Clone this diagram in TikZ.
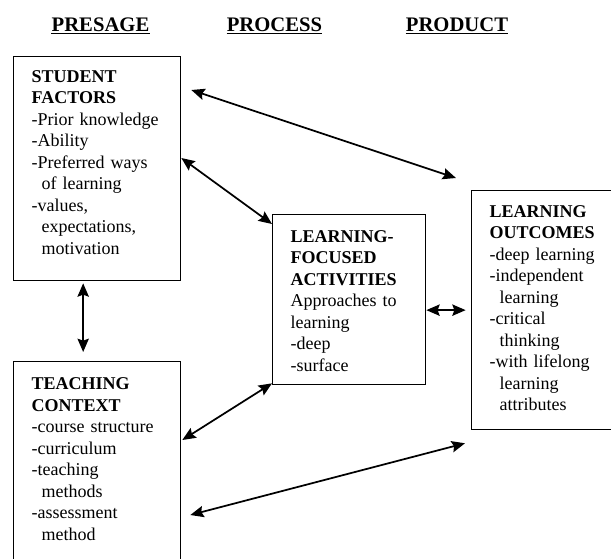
\documentclass[tikz,border=0pt]{standalone}
\usepackage{fontspec}
\setmainfont{Liberation Serif}
\usetikzlibrary{arrows.meta,positioning}
\newcommand{\ind}{\hspace*{0.55em}}

\begin{document}
\begin{tikzpicture}[x=0.75pt,y=-0.75pt,>={Stealth[length=10pt,width=8.5pt,inset=1.5pt]}]
  \tikzstyle{every node}=[font=\fontsize{13.5pt}{16.125pt}\selectfont]
  \tikzstyle{heading}=[font=\fontsize{15.5pt}{18pt}\selectfont\bfseries,inner sep=0pt,anchor=base]
  \tikzstyle{factor}=[draw,line width=1pt,anchor=north west,align=left,inner xsep=13.5pt,inner ysep=0pt]

  \useasboundingbox (0,0) rectangle (611,558);

  \node[heading] (presage) at (100.5,31) {PRESAGE};
  \node[heading] (process) at (274.5,31) {PROCESS};
  \node[heading] (product) at (457,31)   {PRODUCT};

  \node[factor,text width=98.25pt,text height=19.3pt,text depth=148.7pt] (SF) at (13,56)
    {\textbf{STUDENT}\\ \textbf{FACTORS}\\ -Prior knowledge\\ -Ability\\ -Preferred ways\\
     \ind of learning\\ -values,\\ \ind expectations,\\ \ind motivation};
  \node[factor,text width=98.25pt,text height=21pt,text depth=139.5pt] (TC) at (13,361)
    {\textbf{TEACHING}\\ \textbf{CONTEXT}\\ -course structure\\ -curriculum\\ -teaching\\
     \ind methods\\ -assessment\\ \ind method};
  \node[factor,text width=87.75pt,text height=20.8pt,text depth=106.7pt] (LFA) at (272,214)
    {\textbf{LEARNING-}\\ \textbf{FOCUSED}\\ \textbf{ACTIVITIES}\\ Approaches to\\ learning\\
     -deep\\ -surface};
  \node[factor,text width=81.75pt,text height=20pt,text depth=159.2pt] (LO) at (471,190)
    {\textbf{LEARNING}\\ \textbf{OUTCOMES}\\ -deep learning\\ -independent\\ \ind learning\\
     -critical\\ \ind thinking\\ -with lifelong\\ \ind learning\\ \ind attributes};

  \foreach \h in {presage,process,product}
    \draw[line width=0.9pt] ([yshift=-1.8pt]\h.base west) -- ([yshift=-1.8pt]\h.base east);

  \path[<->,line width=1.3pt]
        ([shift={(10,34)}]SF.north east)  edge ([shift={(-15,-12)}]LO.north west)
        ([shift={(0,102)}]SF.north east)  edge ([shift={(0,10)}]LFA.north west)
        ([shift={(-14,2)}]SF.south)       edge ([shift={(-14,-9)}]TC.north)
        (LFA.east |- LO.west)             edge ([xshift=-4]LO.west)
        ([shift={(1,79)}]TC.north east)   edge ([shift={(0,-2)}]LFA.south west)
        ([shift={(9,154)}]TC.north east)  edge ([shift={(-6,13)}]LO.south west);
\end{tikzpicture}
\end{document}
